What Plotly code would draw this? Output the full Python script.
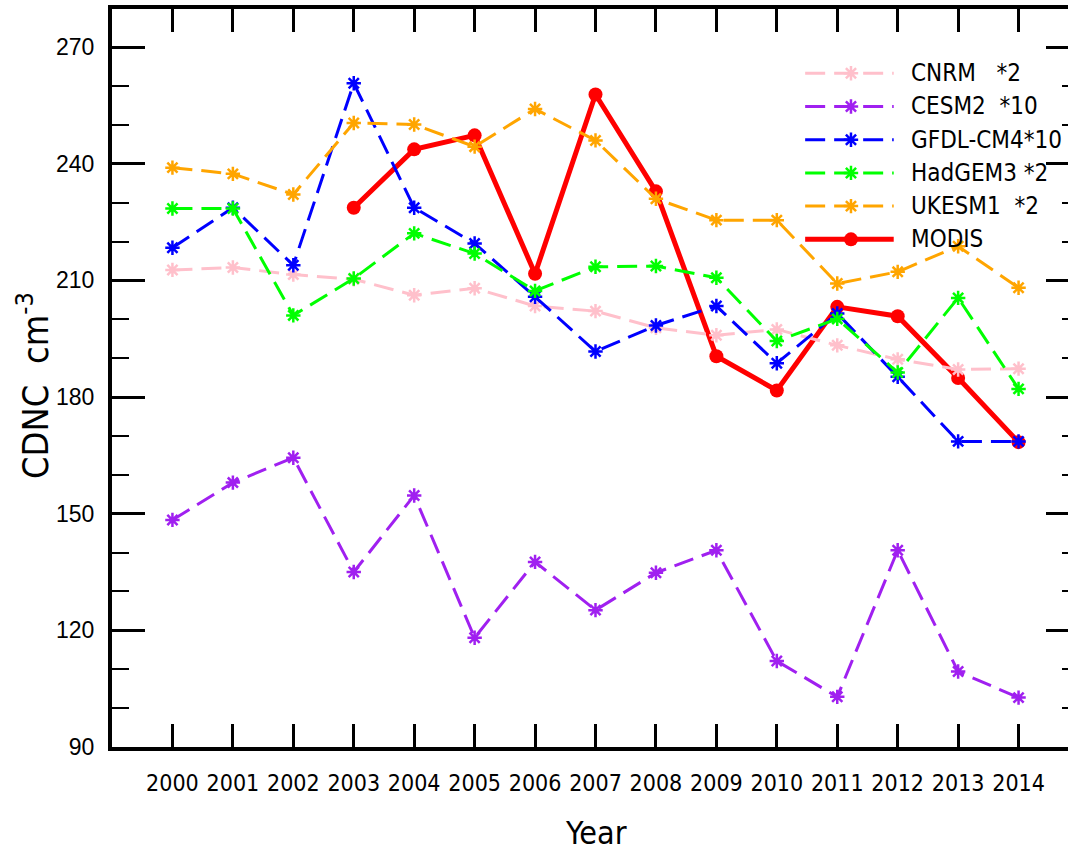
import plotly.graph_objects as go

# ---- data -----------------------------------------------------------------
years = list(range(2000, 2015))

cnrm = [212.7, 213.3, 211.5, 210.3, 206.2, 208.0, 203.4, 202.1,
        197.8, 195.9, 197.4, 193.3, 189.7, 187.1, 187.3]
cesm2 = [148.4, 158.0, 164.4, 135.0, 154.7, 118.1, 137.6, 125.2,
         134.8, 140.6, 112.1, 102.9, 140.6, 109.4, 102.7]
gfdl = [218.4, 228.7, 213.9, 260.7, 228.7, 219.5, 205.8, 191.7,
        198.4, 203.4, 188.7, 201.5, 185.2, 168.6, 168.6]
hadgem3 = [228.5, 228.5, 201.0, 210.5, 222.1, 216.9, 207.3, 213.5,
           213.7, 210.7, 194.4, 200.1, 186.3, 205.5, 182.1]
ukesm1 = [239.0, 237.4, 232.1, 250.5, 250.1, 244.4, 254.1, 246.0,
          231.0, 225.5, 225.5, 209.2, 212.2, 218.8, 208.1]
modis = [None, None, None, 228.7, 243.7, 247.3, 211.7, 257.8,
         232.9, 190.5, 181.7, 203.2, 200.8, 184.9, 168.4]

y_ticks = [90, 120, 150, 180, 210, 240, 270]

labels = ["CNRM\u00a0\u00a0\u00a0*2", "CESM2\u00a0\u00a0*10", "GFDL-CM4*10",
          "HadGEM3\u00a0*2", "UKESM1\u00a0\u00a0*2", "MODIS"]

# ---- styles ---------------------------------------------------------------
NARROW = "DejaVu Sans Condensed, sans-serif"
SANS = "Liberation Sans, Arial, sans-serif"
DASH = "20px,9px"

models = [
    (cnrm, "#FFC0CB"),
    (cesm2, "#A020F0"),
    (gfdl, "#0000FF"),
    (hadgem3, "#00FF00"),
    (ukesm1, "#FFA500"),
]
MODIS_COLOR = "#FF0000"


def star(col):
    return dict(symbol="asterisk-open", size=12, color=col,
                line=dict(color=col, width=2.5))


def dot(col):
    return dict(symbol="circle", size=14, color=col)


fig = go.Figure()

# observations drawn first so the model markers sit on top
fig.add_trace(go.Scatter(
    x=years, y=modis, mode="lines+markers", showlegend=False,
    line=dict(color=MODIS_COLOR, width=5), marker=dot(MODIS_COLOR),
))
for vals, col in models:
    fig.add_trace(go.Scatter(
        x=years, y=vals, mode="lines+markers", showlegend=False,
        line=dict(color=col, width=3, dash=DASH), marker=star(col),
    ))

# ---- hand-made legend on an overlay axis spanning [0,1] -------------------
LEG_X0, LEG_XM, LEG_X1 = 0.7168, 0.7642, 0.8084
LEG_TEXT_X = 0.8239
LEG_TOP, LEG_STEP = 0.9129, 0.0450

entries = [(c, False) for _, c in models] + [(MODIS_COLOR, True)]
for i, ((col, solid), text) in enumerate(zip(entries, labels)):
    row = LEG_TOP - i * LEG_STEP
    fig.add_trace(go.Scatter(
        x=[LEG_X0, LEG_XM, LEG_X1], y=[row] * 3, xaxis="x2", yaxis="y2",
        mode="lines", showlegend=False, hoverinfo="skip",
        line=dict(color=col, width=5 if solid else 3,
                  dash="solid" if solid else DASH),
    ))
    fig.add_trace(go.Scatter(
        x=[LEG_XM], y=[row], xaxis="x2", yaxis="y2",
        mode="markers", showlegend=False, hoverinfo="skip",
        marker=dot(col) if solid else star(col),
    ))
    fig.add_annotation(
        x=LEG_TEXT_X, y=row, xref="paper", yref="paper",
        text=text, showarrow=False, xanchor="left", yanchor="middle",
        font=dict(family=NARROW, size=24, color="black"),
    )

# ---- axes -----------------------------------------------------------------
fig.update_layout(
    width=1083, height=852,
    margin=dict(l=112, r=0, t=9, b=105),
    paper_bgcolor="white", plot_bgcolor="white",
    xaxis=dict(
        range=[1999, 2015], tickvals=years, ticktext=[str(y) for y in years],
        ticks="inside", ticklen=23, tickwidth=2.5, tickcolor="black",
        showline=True, linewidth=4, linecolor="black", mirror="ticks",
        showgrid=False, zeroline=False, ticklabelstandoff=12,
        tickfont=dict(family=NARROW, size=23, color="black"),
    ),
    yaxis=dict(
        range=[90, 279.8], tickvals=y_ticks,
        ticks="inside", ticklen=33, tickwidth=3, tickcolor="black",
        minor=dict(dtick=10, tick0=90, ticks="inside", ticklen=17,
                   tickwidth=2, tickcolor="black"),
        showline=True, linewidth=4, linecolor="black", mirror="ticks",
        showgrid=False, zeroline=False, ticklabelstandoff=9,
        tickfont=dict(family=SANS, size=23, color="black"),
    ),
    xaxis2=dict(overlaying="x", range=[0, 1], visible=False),
    yaxis2=dict(overlaying="y", range=[0, 1], visible=False),
)

fig.add_annotation(
    x=-0.081, y=0.49, xref="paper", yref="paper", showarrow=False,
    text="CDNC\u00a0\u00a0cm<sup>-3</sup>", textangle=-90,
    xanchor="center", yanchor="middle",
    font=dict(family=NARROW, size=36, color="black"),
)
fig.add_annotation(
    x=0.5, y=-0.1165, xref="paper", yref="paper", showarrow=False,
    text="Year", xanchor="center", yanchor="middle",
    font=dict(family=NARROW, size=32, color="black"),
)

fig.write_html(
    "out.html",
    post_script="document.body.style.margin='0';"
                "document.body.style.overflow='hidden';"
                "document.documentElement.style.overflow='hidden';",
)
